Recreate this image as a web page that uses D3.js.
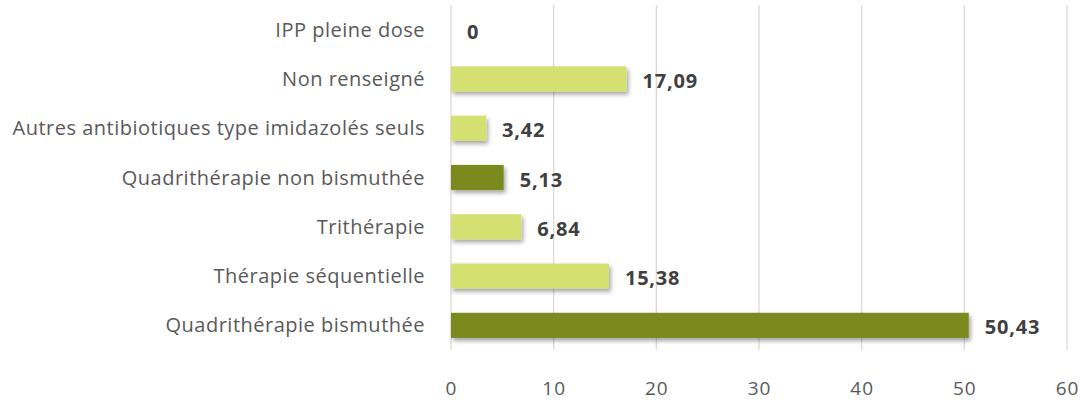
<!DOCTYPE html>
<html><head><meta charset="utf-8">
<script src="https://cdn.jsdelivr.net/npm/d3@7"></script>
<style>body{margin:0;background:#fff}svg{display:block}</style>
</head><body>
<script>
const categories = ["IPP pleine dose","Non renseigné","Autres antibiotiques type imidazolés seuls","Quadrithérapie non bismuthée","Trithérapie","Thérapie séquentielle","Quadrithérapie bismuthée"];
const values = [0,17.09,3.42,5.13,6.84,15.38,50.43];
const labels = ["0","17,09","3,42","5,13","6,84","15,38","50,43"];
const highlighted = [false,false,false,true,false,false,true];
const ticks = [0,10,20,30,40,50,60];

const W=1080,H=405;
const svg=d3.select("body").append("svg").attr("width",W).attr("height",H);
const defs=svg.append("defs");
const f=defs.append("filter").attr("id","sh").attr("x","-5%").attr("y","-30%").attr("width","120%").attr("height","180%");
f.append("feDropShadow").attr("dx",2).attr("dy",3).attr("stdDeviation",2).attr("flood-color","#000").attr("flood-opacity",0.35);

const x=d3.scaleLinear().domain([0,60]).range([451,1067]);
const y=d3.scaleBand().domain(categories).range([5,350]).paddingInner(0.49).paddingOuter(0.245);
const font="'Open Sans', sans-serif";

// gridlines
svg.append("g").selectAll("line").data(ticks).join("line")
 .attr("x1",d=>x(d)).attr("x2",d=>x(d)).attr("y1",5).attr("y2",350)
 .attr("stroke","#d9d9d9").attr("stroke-width",1.3);

// x axis labels
const xa=svg.append("g").attr("transform","translate(0,388)")
 .call(d3.axisBottom(x).tickValues(ticks).tickSize(0).tickPadding(0).tickFormat(d=>d));
xa.select(".domain").remove();
xa.selectAll("text").attr("fill","#595959").attr("font-size",19).attr("letter-spacing","1px").attr("font-family",font).attr("dy","0.35em");

// bars
svg.append("g").selectAll("rect").data(values).join("rect")
 .attr("x",x(0)).attr("y",(d,i)=>y(categories[i]))
 .attr("width",d=>x(d)-x(0)).attr("height",y.bandwidth())
 .attr("fill",(d,i)=>highlighted[i]?"#7a8a1f":"#d4e070")
 .attr("filter",d=>d>0?"url(#sh)":null);

// value labels
svg.append("g").selectAll("text").data(values).join("text")
 .attr("x",d=>x(d)+16).attr("y",(d,i)=>y(categories[i])+y.bandwidth()/2+2)
 .attr("dy","0.35em").attr("fill","#404040").attr("font-weight","bold")
 .attr("font-size",20).attr("letter-spacing","0.8px").attr("font-family",font).text((d,i)=>labels[i]);

// y axis labels
const ya=svg.append("g").attr("transform","translate(425,0)")
 .call(d3.axisLeft(y).tickSize(0).tickPadding(0));
ya.select(".domain").remove();
ya.selectAll("text").attr("fill","#595959").attr("font-size",20).attr("letter-spacing","0.5px").attr("font-family",font).attr("dy","0.35em");
</script>
</body></html>
